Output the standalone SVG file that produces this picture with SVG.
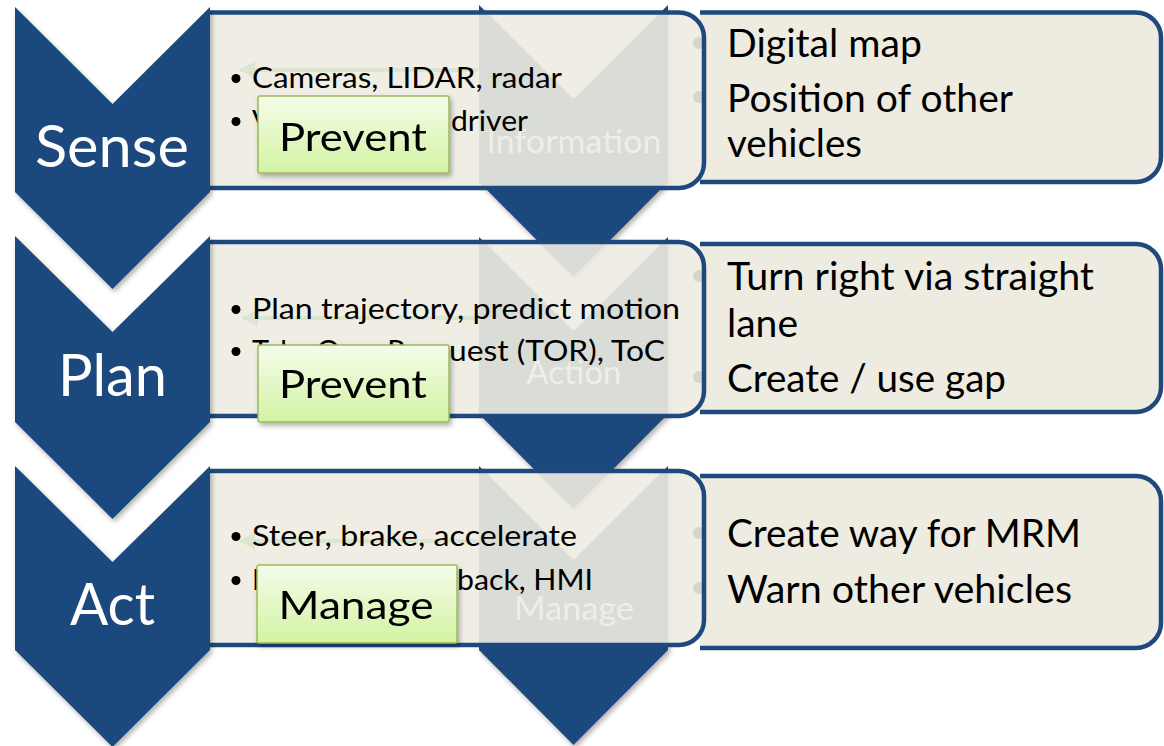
<svg xmlns="http://www.w3.org/2000/svg" width="1164" height="746" viewBox="0 0 1164 746">
  <defs>
    <linearGradient id="tagFill" x1="0" y1="0" x2="0" y2="1">
      <stop offset="0" stop-color="#F5FCEB"/>
      <stop offset="1" stop-color="#D3F3A2"/>
    </linearGradient>
    <filter id="shadow" x="-10%" y="-10%" width="130%" height="130%">
      <feDropShadow dx="2" dy="3" stdDeviation="2.5" flood-color="#000" flood-opacity="0.3"/>
    </filter>
    <marker id="arrowHead" markerUnits="userSpaceOnUse" markerWidth="16" markerHeight="18" refX="15" refY="9" orient="auto-start-reverse">
      <path d="M0,0 L15,9 L0,18 Z" fill="#2E9E2E"/>
    </marker>
  </defs>
  <style>
    .chev{fill:#1F497D}
    .box{fill:#EEECE1;stroke:#1F497D;stroke-width:4.5}
    .midbox{fill:#EEECE1;fill-opacity:0.9;stroke:#1F497D;stroke-width:4.5}
    .tag{fill:url(#tagFill);stroke:#9BBB59;stroke-width:1.5}
    .stage{font-family:Lato,"Open Sans",sans-serif;font-size:58px;fill:#FFFFFF;text-anchor:middle}
    .phase{font-family:Lato,"Open Sans",sans-serif;font-size:32px;fill:#FFFFFF;text-anchor:middle}
    .item{font-family:Lato,"Open Sans",sans-serif;font-size:29px;fill:#000000}
    .info{font-family:Lato,"Open Sans",sans-serif;font-size:39px;fill:#000000}
    .tagtext{font-family:Lato,"Open Sans",sans-serif;font-size:39px;fill:#000000;text-anchor:middle}
    .dot{fill:#000000}
    .link{fill:none;stroke:#2E9E2E;stroke-width:4}
  </style>

  <!-- outer information boxes (left side tucked under the task boxes) -->
  <g id="detail-sense">
    <path class="box" d="M700,12.5 H1136 A25,25 0 0 1 1161,37.5 V157 A25,25 0 0 1 1136,182 H700"/>
    <circle class="dot" cx="699" cy="43" r="6"/>
    <circle class="dot" cx="699" cy="97" r="6"/>
    <text class="info" x="727" y="57" textLength="195" lengthAdjust="spacingAndGlyphs">Digital map</text>
    <text class="info" x="727" y="112" textLength="286" lengthAdjust="spacingAndGlyphs">Position of other</text>
    <text class="info" x="727" y="157" textLength="135" lengthAdjust="spacingAndGlyphs">vehicles</text>
  </g>
  <g id="detail-plan">
    <path class="box" d="M700,244 H1136 A25,25 0 0 1 1161,269 V387 A25,25 0 0 1 1136,412 H700"/>
    <circle class="dot" cx="699" cy="276" r="6"/>
    <circle class="dot" cx="699" cy="377" r="6"/>
    <text class="info" x="727" y="290" textLength="367" lengthAdjust="spacingAndGlyphs">Turn right via straight</text>
    <text class="info" x="727" y="337" textLength="71" lengthAdjust="spacingAndGlyphs">lane</text>
    <text class="info" x="727" y="392" textLength="279" lengthAdjust="spacingAndGlyphs">Create / use gap</text>
  </g>
  <g id="detail-act">
    <path class="box" d="M700,476 H1136 A25,25 0 0 1 1161,501 V623 A25,25 0 0 1 1136,648 H700"/>
    <circle class="dot" cx="699" cy="533" r="6"/>
    <circle class="dot" cx="699" cy="588" r="6"/>
    <text class="info" x="727" y="547" textLength="354" lengthAdjust="spacingAndGlyphs">Create way for MRM</text>
    <text class="info" x="727" y="603" textLength="345" lengthAdjust="spacingAndGlyphs">Warn other vehicles</text>
  </g>

  <!-- inner phase chevrons -->
  <g id="phase-information" filter="url(#shadow)">
    <polygon class="chev" points="479,5 573.5,99 668,5 668,182 573.5,277 479,182"/>
    <text class="phase" x="574" y="153" textLength="175" lengthAdjust="spacingAndGlyphs">Information</text>
  </g>
  <g id="phase-action" filter="url(#shadow)">
    <polygon class="chev" points="479,237 573.5,331 668,237 668,414 573.5,509 479,414"/>
    <text class="phase" x="574" y="384" textLength="95" lengthAdjust="spacingAndGlyphs">Action</text>
  </g>
  <g id="phase-manage" filter="url(#shadow)">
    <polygon class="chev" points="479,466 573.5,560 668,466 668,650 573.5,745 479,650"/>
    <text class="phase" x="574" y="620" textLength="120" lengthAdjust="spacingAndGlyphs">Manage</text>
  </g>

  <!-- feedback arrows -->
  <g id="connectors">
    <path class="link" d="M240,70 H478" marker-start="url(#arrowHead)"/>
    <path class="link" d="M243,318 H478" marker-start="url(#arrowHead)"/>
    <path class="link" d="M240,541 H478" marker-start="url(#arrowHead)"/>
  </g>

  <!-- task boxes -->
  <g id="task-sense">
    <path class="midbox" d="M210,12.5 H679 A25,25 0 0 1 704,37.5 V163 A25,25 0 0 1 679,188 H210"/>
    <circle class="dot" cx="236" cy="78.5" r="4.5"/>
    <circle class="dot" cx="236" cy="121.5" r="4.5"/>
    <text class="item" x="252" y="88" textLength="310" lengthAdjust="spacingAndGlyphs">Cameras, LIDAR, radar</text>
    <text class="item" x="252" y="131">V2X, monitor</text>
    <text class="item" x="451" y="131" textLength="77" lengthAdjust="spacingAndGlyphs">driver</text>
  </g>
  <g id="task-plan">
    <path class="midbox" d="M210,242 H679 A25,25 0 0 1 704,267 V391 A25,25 0 0 1 679,416 H210"/>
    <circle class="dot" cx="236" cy="309.5" r="4.5"/>
    <circle class="dot" cx="236" cy="351.5" r="4.5"/>
    <text class="item" x="252" y="319" textLength="428" lengthAdjust="spacingAndGlyphs">Plan trajectory, predict motion</text>
    <text class="item" x="252" y="361">Take Over Req</text>
    <text class="item" x="449" y="361" textLength="216" lengthAdjust="spacingAndGlyphs">uest (TOR), ToC</text>
  </g>
  <g id="task-act">
    <path class="midbox" d="M210,471 H679 A25,25 0 0 1 704,496 V620 A25,25 0 0 1 679,645 H210"/>
    <circle class="dot" cx="236" cy="536.5" r="4.5"/>
    <circle class="dot" cx="236" cy="580.5" r="4.5"/>
    <text class="item" x="252" y="546" textLength="325" lengthAdjust="spacingAndGlyphs">Steer, brake, accelerate</text>
    <text class="item" x="252" y="590">Haptic feed</text>
    <text class="item" x="457" y="590" textLength="136" lengthAdjust="spacingAndGlyphs">back, HMI</text>
  </g>

  <!-- stage chevrons -->
  <g id="stage-sense" filter="url(#shadow)">
    <polygon class="chev" points="15,7 112.5,104 210,7 210,192 112.5,289 15,192"/>
    <text class="stage" x="112" y="167" textLength="154" lengthAdjust="spacingAndGlyphs">Sense</text>
  </g>
  <g id="stage-plan" filter="url(#shadow)">
    <polygon class="chev" points="15,236 112.5,332 210,236 210,422 112.5,519 15,422"/>
    <text class="stage" x="112.5" y="396" textLength="109" lengthAdjust="spacingAndGlyphs">Plan</text>
  </g>
  <g id="stage-act" filter="url(#shadow)">
    <polygon class="chev" points="15,466 112.5,562 210,466 210,650 112.5,747 15,650"/>
    <text class="stage" x="112.5" y="625" textLength="85" lengthAdjust="spacingAndGlyphs">Act</text>
  </g>

  <!-- strategy tags -->
  <g id="tag-sense" filter="url(#shadow)">
    <rect class="tag" x="258" y="96" width="191" height="77" rx="2"/>
    <text class="tagtext" x="353" y="151" textLength="148" lengthAdjust="spacingAndGlyphs">Prevent</text>
  </g>
  <g id="tag-plan" filter="url(#shadow)">
    <rect class="tag" x="258" y="345" width="191" height="77" rx="2"/>
    <text class="tagtext" x="353" y="398" textLength="148" lengthAdjust="spacingAndGlyphs">Prevent</text>
  </g>
  <g id="tag-act" filter="url(#shadow)">
    <rect class="tag" x="257" y="565" width="200" height="78" rx="2"/>
    <text class="tagtext" x="356" y="619" textLength="155" lengthAdjust="spacingAndGlyphs">Manage</text>
  </g>
</svg>
